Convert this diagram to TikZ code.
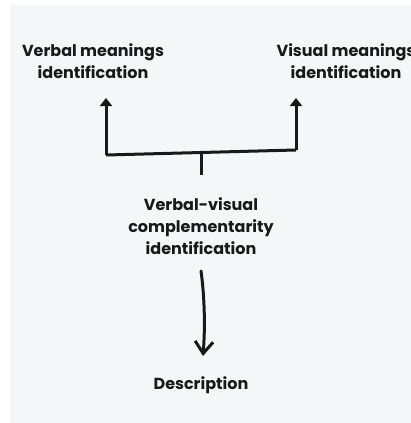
\documentclass[tikz,border=0pt]{standalone}
\usepackage{fontspec}
\setmainfont{Poppins}
\usetikzlibrary{arrows.meta}
\definecolor{bgrey}{HTML}{F5F6F8}
\tikzset{lbl/.style={align=center,font=\bfseries\fontsize{16}{22}\selectfont,text=black!90},
  ln/.style={line width=3pt,black!90}}
\begin{document}
\begin{tikzpicture}[x=1pt,y=-1pt]
\useasboundingbox (0,0) rectangle (411,423);
\fill[white] (0,0) rectangle (411,423);
\fill[bgrey] (10,5) rectangle (411,423);

\node[lbl] (verbal) at (93,61) {Verbal meanings\\identification};
\node[lbl] (visual) at (346,61) {Visual meanings\\identification};
\node[lbl] (comp) at (201,226) {Verbal-visual\\complementarity\\identification};
\node[lbl] (desc) at (201,385) {Description};

\coordinate (l) at (106,155);
\coordinate (r) at (296,150);
\coordinate (m) at (201,153);
\draw[ln,-{Triangle[width=12pt,length=8pt]}] (l) -- (106,98);
\draw[ln,-{Triangle[width=12pt,length=8pt]}] (r) -- (296,98);
\draw[ln] (l) -- (r);
\draw[ln] (m) -- (201,175);
\draw[ln,line cap=round,-{Straight Barb[width=18pt,length=12pt,line width=3pt]}] (201,271) .. controls (205,300) and (205,330) .. (203,356);
\end{tikzpicture}
\end{document}
